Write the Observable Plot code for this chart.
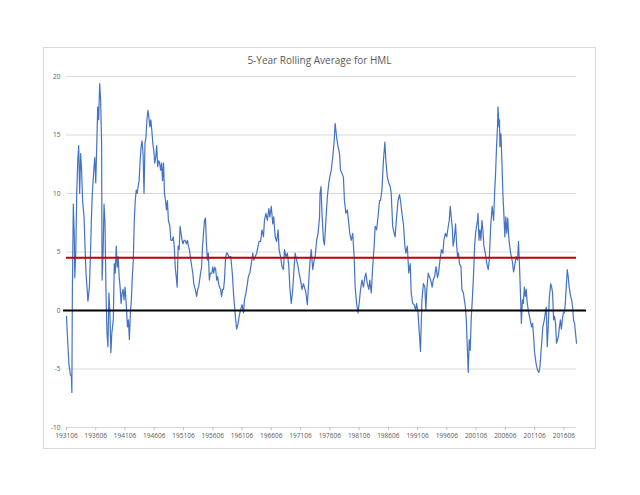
<!DOCTYPE html>
<html>
<head>
<meta charset="utf-8">
<script src="https://cdn.jsdelivr.net/npm/d3@7"></script>
<script src="https://cdn.jsdelivr.net/npm/@observablehq/plot@0.6"></script>
<style>
  body { margin: 0; background: #fff; }
  #wrap { position: relative; width: 640px; height: 495px; }
  #frame { position: absolute; left: 43px; top: 47px; width: 551px; height: 400px; border: 1px solid #d9d9d9; }
  #title { position: absolute; left: 43px; top: 53px; width: 553px; text-align: center;
           font-family: 'Open Sans', sans-serif; font-size: 10px; line-height: 14px; color: #595959; }
  #chart { position: absolute; left: 0; top: 0; }
</style>
</head>
<body>
<div id="wrap">
  <div id="frame"></div>
  <div id="title">5-Year Rolling Average for HML</div>
  <div id="chart"></div>
</div>
<script>
// Month index: 0 = 193106 (June 1931), one step per month
const monthsA = [0,3,5,8,10,11,12,14,16,17,19,21,23,25,27,29,31,33,36,38,40,44,47,49,51,53,56,58,60,62,64,66,68,70,72,73,75,77,79,81,83,85,87,89,91,93,96,98,100,102,104,106,108,110,112,114,116,118,120,122,125,127,129,131,133,135,137,139,141,143,145,147,149,151,153,155,157,159,161,163,165,167,169,171,173,175,177,179,181,183,185,187,189,191,193,195,197,199,201,203,205,207,209,212,214,217,219,221,223,225,227,229,231,233,235,237,239,241,243,246,248,250,252,254,256,259,261,264,267,269,271,273,275,277,279,281,283,285,287,289,291,293,295,298,300,302,304,306,308,310,312,314,316,318,320,322,324,326,328,330,333];
const hmlA = [-0.5,-3.1,-4.6,-5.5,-5.6,-7.0,1.5,9.1,6.3,2.8,4.9,10.0,12.8,14.1,10.0,13.4,12.0,9.4,8.0,5.5,3.2,0.8,2.0,4.6,7.7,10.0,12.0,13.1,10.9,14.0,17.4,16.3,19.4,18.0,14.3,2.6,4.9,9.1,7.4,1.5,-1.9,-3.1,1.5,-0.2,-3.6,-1.9,-0.8,4.0,3.2,5.5,3.7,4.6,2.9,2.0,0.6,1.5,1.8,0.9,2.0,0.9,-1.4,-0.8,-2.5,-0.2,0.9,2.9,4.3,7.7,9.4,10.3,10.0,10.6,11.1,12.8,14.0,14.5,13.4,10.0,14.3,14.8,16.3,17.1,16.5,15.7,16.3,15.4,14.3,13.7,12.6,13.1,14.1,12.3,12.8,12.6,12.0,12.6,11.1,12.6,10.0,9.4,8.6,9.4,7.7,7.2,6.0,6.0,6.3,5.5,3.7,2.9,2.0,5.5,5.2,7.2,6.6,6.0,5.7,6.0,6.0,5.7,6.0,5.5,5.2,4.6,4.0,3.2,2.3,1.8,1.2,1.8,2.0,2.6,3.2,3.7,5.5,6.6,7.7,7.9,5.7,4.3,4.9,2.6,3.2,3.2,3.7,3.2,3.7,3.5,2.6,2.9,2.3,2.0,1.8,1.2,1.8,1.8,2.6,4.3,4.9,4.9,4.6];

const monthsB = [337,340,343,347,349,352,354,357,360,363,365,368,371,373,376,379,382,384,387,390,393,395,398,401,404,406,409,412,415,417,420,423,425,428,431,434,436,439,442,445,447,450,453,456,458,461,464,467,469,472,475,477,480,483,486,488,491,494,497,499,502,505,508,510,513,516,519,520,522,524,527,529,532,535,538,540,543,546,549,551,554,557,560,562,565,568,570,573,576,579,581,584,587,590,592,595,598,601,603,606,609,612,614,617,620,622,625,628,631,633,636,639,642,644,647,650,653,655,658,661,664,666,669,672,674,677,680,683];
const hmlB = [4.6,3.2,1.2,-0.8,-1.6,-1.1,-0.5,0.05,0.5,-0.2,0.9,1.5,2.3,2.9,3.2,4.0,4.9,4.3,4.6,4.9,5.5,5.9,5.9,6.9,6.3,7.7,8.3,7.7,8.7,8.0,8.9,7.4,8.0,6.3,5.9,6.9,5.2,4.6,3.75,3.5,5.2,4.6,4.9,3.75,2.0,0.6,1.8,3.75,4.9,4.3,3.75,3.2,2.6,1.8,2.3,2.0,1.5,0.5,2.6,4.0,5.2,3.5,4.3,4.6,6.0,6.6,8.0,10.0,10.6,8.3,6.0,5.6,7.7,9.7,10.9,11.4,12.0,13.1,14.5,16.0,14.8,14.0,13.4,12.0,11.7,11.4,9.4,8.3,8.6,7.4,6.6,6.0,6.6,4.6,2.0,0.6,-0.2,0.9,1.8,2.6,2.0,2.9,3.2,2.3,1.8,2.6,1.5,3.75,5.5,7.2,6.9,8.0,9.4,9.4,10.3,12.8,14.4,12.8,11.4,10.9,10.6,10.0,7.2,6.6,6.3,8.0,9.4,9.9];

const monthsC = [685,688,691,694,696,699,702,705,707,710,713,716,718,721,724,726,729,732,735,737,739,742,744,747,750,752,755,758,761,763,766,769,772,774,777,780,783,785,787,789,791,793,795,798,800,802,804,806,809,811,814,816,818,820,822,824,826,828,830,833,835,837,839,841,843,844,846,848,850,852,854,856,859,862,865,867,870,873,876,878,880,882,884,885,887,888,889,891,893,895,897,899,901,903,905,907,909,911,914,917,919,922,925,927,929,931,933,935,937,939,941,943,945,948,951,954,956,958,960,963,966,969,971,974,977,980,982,984,986,988,990,993,995,997,999,1001,1003,1005,1007,1009,1011,1013,1015,1017,1019,1021,1023,1025,1027,1029,1031,1034,1036,1038,1040,1042,1044,1046];
const hmlC = [9.4,8.3,7.4,5.5,4.9,5.5,3.2,4.0,1.5,0.6,0.5,0.05,0.6,-0.2,-2.2,-3.5,0.9,2.3,2.0,0.05,1.8,3.2,2.9,2.6,2.0,2.6,2.9,3.75,2.8,3.2,4.3,5.2,4.9,6.0,6.6,6.3,7.2,7.7,8.9,8.0,7.2,5.5,6.0,7.4,5.7,4.6,4.9,4.0,3.75,1.8,1.5,0.9,0.3,-0.8,-3.1,-5.3,-2.5,-3.4,-0.8,1.5,3.2,5.5,6.6,7.2,7.7,8.3,6.0,6.9,6.0,7.7,6.9,5.5,4.9,4.0,3.5,4.3,7.2,8.9,7.7,10.0,11.7,14.0,15.7,17.4,15.7,16.3,14.0,15.1,12.8,10.0,8.3,6.3,8.0,6.6,7.9,6.3,5.5,4.9,4.3,3.3,3.75,4.6,4.3,5.9,4.0,1.5,-1.1,0.9,0.6,2.0,1.2,1.8,0.6,-0.2,-0.8,-1.4,-1.1,-2.2,-3.6,-4.5,-5.1,-5.3,-4.8,-3.1,-1.4,-0.8,-0.2,0.3,-3.1,-1.4,0.9,2.3,2.0,1.5,-0.8,-0.5,-1.1,-2.8,-2.5,-2.2,-1.4,-0.8,-1.6,-0.8,-0.2,-0.2,0.6,2.0,3.5,2.9,2.0,1.2,0.9,0.3,-0.8,-1.1,-1.9,-2.8];

const xTickMonths = [0,60,120,180,240,300,360,420,480,540,600,660,720,780,840,900,960,1020];
const xTickLabels = ["193106","193606","194106","194606","195106","195606","196106","196606","197106","197606","198106","198606","199106","199606","200106","200606","201106","201606"];
const yTicks = [-10,-5,0,5,10,15,20];
const averageLine = 4.5;
const zeroLine = 0;
const lastMonth = 1046;

const months = [...monthsA, ...monthsB, ...monthsC];
const hml = [...hmlA, ...hmlB, ...hmlC];
if (months.length !== hml.length) console.error("length mismatch", months.length, hml.length);
const data = months.map((m, i) => ({m, v: hml[i]}));

const chart = Plot.plot({
  width: 640,
  height: 495,
  marginLeft: 66,
  marginRight: 64,
  marginTop: 76,
  marginBottom: 68,
  style: {background: "transparent", fontFamily: "'Open Sans', sans-serif", color: "#595959"},
  x: {type: "linear", domain: [0, lastMonth], axis: null, label: null},
  y: {domain: [-10, 20], axis: null, label: null},
  marks: [
    Plot.gridY(yTicks.filter(d => d > -10), {stroke: "#d9d9d9", strokeOpacity: 1}),
    Plot.ruleY([-10], {stroke: "#d9d9d9", strokeWidth: 1}),
    Plot.axisY(yTicks, {label: null, tickSize: 0, tickPadding: 6, fontSize: 6.5, fill: "#595959", tickFormat: d => String(d)}),
    Plot.axisX(xTickMonths, {label: null, tickSize: 3, tickPadding: 3, fontSize: 6.5, stroke: "#bfbfbf", fill: "#595959",
      tickFormat: d => xTickLabels[xTickMonths.indexOf(d)]}),
    Plot.lineY(data, {x: "m", y: "v", stroke: "#4472c4", strokeWidth: 1.2}),
    Plot.ruleY([zeroLine], {stroke: "#000", strokeWidth: 2, insetLeft: -3, insetRight: -10}),
    Plot.ruleY([averageLine], {stroke: "#c00000", strokeWidth: 2})
  ]
});
document.getElementById("chart").appendChild(chart);
</script>
</body>
</html>
